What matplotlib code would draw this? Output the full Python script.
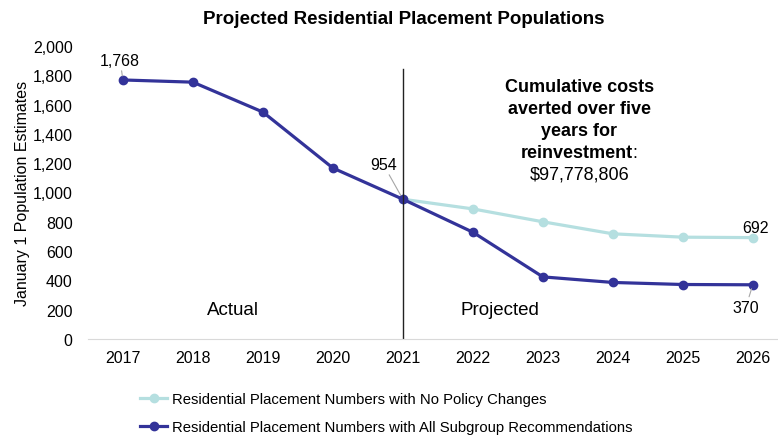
import matplotlib.pyplot as plt

plt.rcParams['font.family'] = ['Liberation Sans', 'DejaVu Sans']

years = [2017, 2018, 2019, 2020, 2021, 2022, 2023, 2024, 2025, 2026]
no_policy_years = [2021, 2022, 2023, 2024, 2025, 2026]
no_policy = [954, 888, 800, 718, 695, 692]
subgroup = [1768, 1753, 1549, 1167, 954, 729, 424, 386, 372, 370]
split_year = 2021
light = '#b5dfe0'
dark = '#333399'

fig = plt.figure(figsize=(7.78, 4.39), dpi=100)
ax = fig.add_axes([0.113, 0.2255, 0.887, 0.6675])

ax.plot(no_policy_years, no_policy, color=light, lw=2.3, marker='o', ms=6,
        label='Residential Placement Numbers with No Policy Changes')
ax.plot(years, subgroup, color=dark, lw=2.3, marker='o', ms=6,
        label='Residential Placement Numbers with All Subgroup Recommendations')
ax.axvline(split_year, ymax=0.92, color='#222222', lw=1)

ax.set_xlim(2016.5, 2026.36)
ax.set_ylim(0, 2000)
ax.set_xticks(years)
ax.set_yticks(range(0, 2001, 200))
ax.set_yticklabels([f'{v:,}' for v in range(0, 2001, 200)])
ax.tick_params(length=0, labelsize=11.5, pad=8)
ax.tick_params(axis='y', pad=11)
for s in ['top', 'right', 'left']:
    ax.spines[s].set_visible(False)
ax.spines['bottom'].set_color('#d9d9d9')
ax.set_ylabel('January 1 Population Estimates', fontsize=11.5, labelpad=2)
fig.suptitle('Projected Residential Placement Populations', x=0.519, y=0.975,
             fontsize=13.5, fontweight='bold')

# value callouts
lead = dict(arrowstyle='-', color='#a6a6a6', lw=0.8, shrinkA=0, shrinkB=3)
ax.annotate(f'{subgroup[0]:,}', (years[0], subgroup[0]), xytext=(-2, 14),
            textcoords='offset points', ha='center', va='center', fontsize=11.5,
            arrowprops=lead)
ax.annotate(f'{subgroup[4]:,}', (years[4], subgroup[4]), xytext=(-14, 25),
            textcoords='offset points', ha='center', va='center', fontsize=11.5,
            arrowprops=lead)
ax.annotate(f'{no_policy[-1]:,}', (no_policy_years[-1], no_policy[-1]), xytext=(2, 7),
            textcoords='offset points', ha='center', va='center', fontsize=11.5)
ax.annotate(f'{subgroup[-1]:,}', (years[-1], subgroup[-1]), xytext=(-5, -16),
            textcoords='offset points', ha='center', va='center', fontsize=11.5,
            arrowprops=lead)

ax.text(0.21, 0.1, 'Actual', transform=ax.transAxes, ha='center', va='center',
        fontsize=13.5)
ax.text(0.597, 0.1, 'Projected', transform=ax.transAxes, ha='center', va='center',
        fontsize=13.5)

# cost note
note = ['Cumulative costs', 'averted over five', 'years for']
nx, ny, step = 0.712, 0.863, 0.075
for i, line in enumerate(note):
    ax.text(nx, ny - i * step, line, transform=ax.transAxes, ha='center',
            va='center', fontsize=13, fontweight='bold')
t = ax.text(nx - 0.004, ny - 3 * step, 'reinvestment', transform=ax.transAxes,
            ha='center', va='center', fontsize=13, fontweight='bold')
ax.annotate(':', xycoords=t, xy=(1, 0.5), va='center', ha='left', fontsize=13)
ax.text(nx, ny - 4 * step, '$97,778,806', transform=ax.transAxes,
        ha='center', va='center', fontsize=13)

fig.legend(loc='lower left', bbox_to_anchor=(0.163, -0.022), frameon=False,
           fontsize=10.7, handlelength=1.8, handletextpad=0.35, labelspacing=0.95)

fig.savefig('out.png')
